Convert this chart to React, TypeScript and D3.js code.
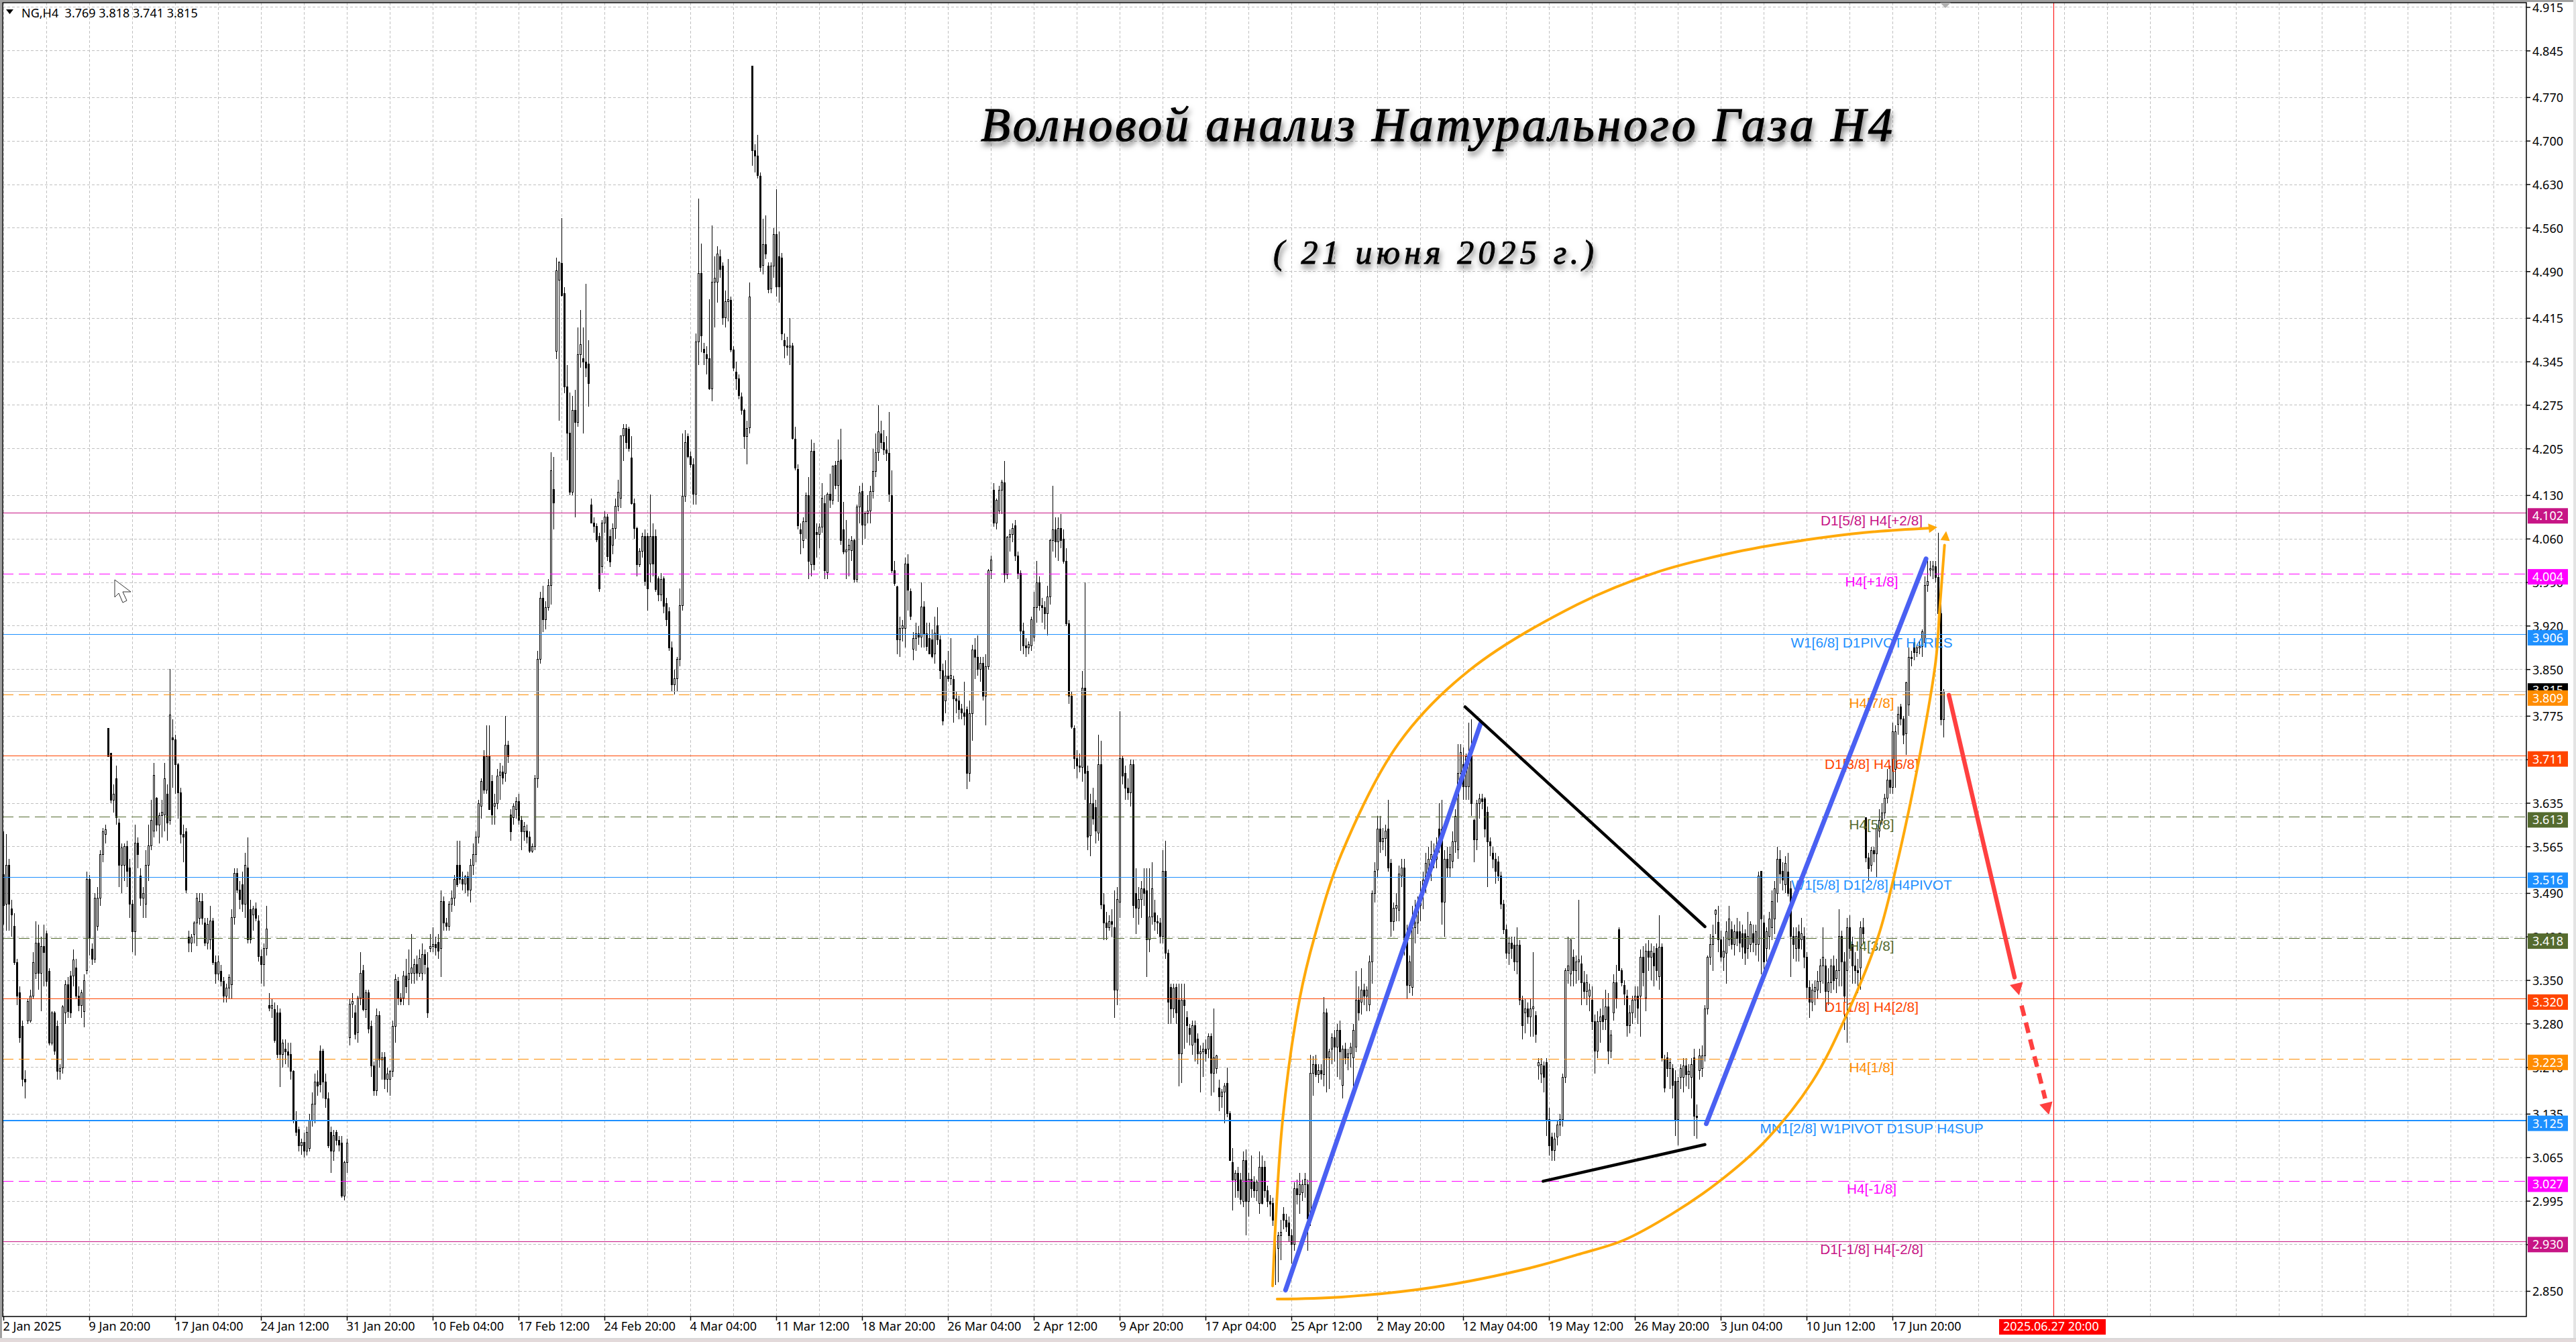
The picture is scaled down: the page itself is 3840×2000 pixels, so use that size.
import React from 'react';
import * as d3 from 'd3';

// H4 candles, [open, high, low, close] in thousandths of a dollar
const barsJan = [
  [3520,3590,3440,3470],[3473,3585,3430,3535],[3535,3545,3430,3473],[3465,3480,3420,3455],[3437,3458,3375,3379],[3379,3385,3310,3325],[3330,3340,3250,3258],[3276,3285,3180,3191],
  [3191,3205,3160,3187],[3285,3320,3280,3316],[3285,3335,3282,3325],[3325,3395,3320,3379],[3361,3445,3352,3410],[3410,3440,3335,3361],[3361,3420,3300,3405],[3405,3440,3340,3395],
  [3425,3430,3340,3348],[3365,3370,3245,3249],[3249,3300,3245,3298],[3298,3300,3230,3236],[3276,3285,3190,3204],[3204,3215,3190,3208],[3209,3310,3200,3307],[3298,3350,3280,3343],
  [3343,3355,3290,3300],[3357,3365,3290,3298],[3357,3400,3340,3383],[3370,3385,3320,3325],[3325,3340,3300,3310],[3310,3335,3290,3330],[3300,3360,3275,3350],[3366,3525,3360,3513],
  [3513,3520,3390,3419],[3400,3410,3375,3384],[3384,3490,3378,3482],[3437,3500,3430,3482],[3482,3560,3470,3553],[3553,3595,3540,3589],[3585,3600,3570,3592],[3755,3756,3710,3710],
  [3715,3716,3635,3640],[3640,3665,3620,3650],[3674,3695,3600,3612],[3603,3610,3500,3535],[3535,3570,3490,3563],[3535,3570,3510,3565],[3565,3575,3500,3525],[3531,3545,3450,3473],
  [3473,3480,3395,3428],[3428,3600,3390,3571],[3571,3580,3530,3553],[3518,3530,3470,3482],[3482,3500,3450,3490],[3473,3560,3450,3535],[3535,3600,3510,3567],[3567,3640,3560,3607],
  [3590,3700,3580,3680],[3643,3645,3590,3600],[3600,3620,3570,3615],[3615,3640,3580,3620],[3616,3700,3590,3674],[3650,3665,3575,3603],[3607,3851,3600,3777],[3740,3770,3660,3737],
  [3737,3745,3650,3697],[3697,3700,3610,3652],[3652,3660,3570,3585],[3585,3600,3540,3580],[3589,3595,3490,3495],[3420,3430,3395,3410],[3410,3425,3395,3420],[3424,3445,3410,3442],
  [3442,3490,3405,3482],[3450,3490,3440,3477],[3477,3490,3440,3450],[3442,3450,3405,3410],[3410,3450,3400,3440],[3415,3470,3400,3446],[3446,3450,3375,3379],[3379,3390,3345,3360],
  [3360,3390,3350,3380],[3365,3375,3340,3348],[3348,3355,3315,3325],[3325,3345,3315,3338],[3338,3360,3320,3355],[3343,3465,3320,3451],[3451,3530,3440,3522],[3522,3530,3490,3495],
  [3495,3510,3465,3480],[3504,3525,3460,3473],[3473,3555,3450,3535],[3531,3580,3410,3415],[3464,3480,3410,3415],[3455,3470,3430,3465],[3465,3475,3445,3450],[3446,3455,3380,3388],
  [3388,3400,3345,3375],[3375,3410,3340,3401],[3401,3470,3390,3433],[3310,3330,3300,3305],[3305,3320,3290,3310],[3303,3315,3250,3254],[3298,3310,3225,3231],[3298,3305,3178,3231],
  [3231,3255,3210,3249],[3240,3255,3215,3235],[3235,3250,3210,3230],[3231,3250,3190,3204],[3204,3205,3120,3124],[3124,3140,3100,3106],[3110,3115,3075,3084],[3084,3095,3070,3090],
  [3090,3105,3065,3075],[3075,3115,3068,3106],[3080,3135,3075,3124],[3124,3170,3115,3151],[3151,3200,3120,3187],[3187,3205,3165,3180],[3236,3245,3170,3182],[3236,3240,3160,3187],
  [3187,3200,3145,3160],[3160,3170,3080,3084],[3106,3115,3040,3075],[3075,3110,3060,3100],[3106,3110,3085,3093],[3093,3100,3075,3085],[3088,3100,3000,3003],[3003,3060,2996,3057],
  [3057,3095,3040,3088],
];

const barsFeb = [
  [3258,3320,3245,3312],[3312,3330,3290,3316],[3298,3310,3255,3263],[3267,3325,3250,3321],[3321,3395,3310,3361],[3366,3375,3300,3303],[3303,3335,3290,3330],[3330,3335,3265,3272],
  [3276,3285,3195,3213],[3213,3220,3165,3173],[3173,3305,3165,3294],[3294,3300,3210,3222],[3222,3235,3190,3225],[3227,3235,3175,3191],[3191,3210,3170,3200],[3191,3205,3165,3204],
  [3204,3285,3195,3276],[3276,3360,3250,3352],[3348,3355,3310,3321],[3321,3330,3310,3316],[3321,3365,3310,3357],[3357,3385,3330,3340],[3352,3400,3310,3361],[3361,3425,3345,3370],
  [3361,3385,3345,3375],[3375,3390,3350,3361],[3361,3400,3355,3385],[3361,3410,3350,3392],[3392,3400,3360,3375],[3370,3395,3290,3298],[3401,3425,3395,3405],[3405,3435,3395,3408],
  [3408,3420,3390,3402],[3411,3425,3385,3397],[3401,3495,3355,3477],[3477,3485,3430,3442],[3442,3450,3430,3437],[3437,3478,3430,3473],[3473,3495,3460,3482],[3482,3520,3470,3513],
  [3535,3575,3500,3504],[3535,3575,3505,3513],[3513,3525,3495,3505],[3505,3520,3490,3517],[3517,3525,3485,3495],[3495,3545,3475,3535],[3535,3570,3520,3553],[3553,3590,3540,3580],
  [3580,3640,3570,3634],[3630,3675,3610,3670],[3710,3720,3650,3656],[3656,3760,3650,3710],[3710,3760,3625,3625],[3670,3680,3600,3616],[3630,3650,3600,3635],[3635,3690,3625,3679],
  [3680,3700,3640,3685],[3685,3695,3665,3675],[3683,3775,3670,3728],[3728,3735,3700,3710],[3616,3625,3575,3589],[3612,3635,3600,3630],[3625,3645,3610,3638],[3638,3650,3600,3607],
  [3607,3615,3560,3589],[3589,3605,3575,3598],[3590,3600,3570,3580],[3580,3590,3555,3558],[3558,3570,3555,3565],[3565,3680,3560,3674],[3674,3880,3660,3867],[3867,3975,3860,3965],
  [3965,3985,3910,3930],[3930,3960,3915,3950],[3950,3995,3945,3985],[3985,4199,3955,4170],[4140,4192,4075,4118],[4362,4512,4349,4491],[4476,4505,4250,4505],[4503,4576,4450,4451],
  [4455,4465,4294,4305],[4305,4340,4186,4230],[4230,4295,4130,4135],[4135,4290,4130,4267],[4267,4300,4095,4247],[4247,4400,4240,4356],[4356,4428,4335,4373],[4350,4400,4230,4345],
  [4345,4470,4320,4335],[4341,4380,4273,4310],[4115,4125,4085,4086],[4086,4095,4070,4080],[4080,4085,4055,4059],[4064,4070,3975,3980],[4015,4090,4005,4086],[4086,4105,4070,4095],
  [4095,4100,4025,4032],[4064,4075,4015,4023],[4050,4085,4035,4077],[4077,4125,4060,4113],[4113,4155,4105,4135],[4126,4226,4110,4226],[4226,4245,4185,4238],[4238,4245,4205,4215],
  [4237,4240,4200,4205],[4190,4225,4115,4117],[4117,4125,4060,4077],[4077,4080,4000,4019],[4019,4045,4015,4040],[4040,4070,4030,4064],[4064,4075,3985,3992],[4064,4070,3945,3980],
  [4020,4131,3990,4064],[4064,4085,4000,4020],[4064,4075,3975,3979],[3996,4000,3960,3970],[3970,4005,3960,3995],[3996,4000,3940,3952],[3956,3965,3920,3930],[3943,3950,3880,3885],
];

const barsMar = [
  [3885,3895,3815,3825],[3825,3850,3810,3835],[3835,3870,3815,3867],[3867,3980,3855,3953],[3953,4230,3945,4129],[4129,4235,4120,4215],[4225,4230,4190,4192],[4192,4200,4175,4180],
  [4180,4190,4115,4132],[4132,4390,4115,4377],[4377,4607,4340,4487],[4487,4535,4360,4387],[4365,4375,4340,4360],[4357,4370,4325,4350],[4350,4445,4300,4301],[4301,4564,4282,4473],
  [4473,4515,4400,4480],[4473,4531,4440,4518],[4514,4525,4480,4494],[4499,4505,4405,4416],[4416,4460,4400,4442],[4442,4510,4410,4445],[4444,4450,4360,4364],[4364,4370,4330,4335],
  [4328,4345,4300,4318],[4318,4325,4285,4291],[4289,4295,4260,4267],[4267,4270,4205,4225],[4225,4250,4180,4238],[4239,4473,4230,4449],[4820,4820,4660,4685],[4685,4695,4650,4676],
  [4676,4710,4640,4645],[4644,4650,4490,4497],[4500,4575,4485,4533],[4533,4580,4510,4518],[4499,4505,4455,4461],[4462,4505,4455,4499],[4499,4560,4480,4550],[4550,4623,4450,4466],
  [4514,4555,4440,4466],[4512,4520,4380,4390],[4379,4390,4350,4371],[4371,4385,4355,4368],[4368,4415,4340,4370],[4370,4375,4220,4222],[4220,4240,4170,4174],[4172,4180,4075,4081],
  [4075,4085,4035,4068],[4057,4095,4045,4088],[4088,4135,4060,4130],[4130,4160,3995,4024],[4019,4220,4000,4201],[4201,4215,4010,4019],[4071,4085,4030,4067],[4067,4085,4045,4079],
  [4079,4150,4070,4125],[4117,4130,3995,4009],[4006,4135,3995,4132],[4132,4165,4110,4122],[4122,4178,4115,4177],[4178,4185,4140,4146],[4146,4220,4120,4185],[4187,4237,4050,4057],
  [4075,4120,4035,4039],[4039,4090,3995,4042],[4042,4060,4000,4050],[4041,4065,4025,4057],[4057,4060,3990,3995],[3995,4115,3990,4112],[4112,4145,4085,4134],[4136,4150,4050,4082],
  [4082,4105,4060,4101],[4101,4130,4085,4105],[4105,4145,4085,4136],[4136,4205,4125,4169],[4169,4230,4160,4199],[4199,4275,4185,4232],[4229,4250,4205,4215],[4215,4235,4195,4203],
  [4203,4225,4185,4198],[4198,4264,4120,4132],[4130,4170,4005,4009],[4009,4025,3985,3988],[3983,3985,3875,3898],[3898,3935,3870,3916],[3916,3930,3895,3920],[3916,4030,3885,4020],
  [4020,4035,3945,3978],[3976,3980,3930,3936],[3883,3910,3865,3900],[3900,3925,3880,3908],[3908,3920,3890,3902],[3902,3990,3885,3951],[3951,3960,3885,3907],[3907,3925,3880,3887],
  [3900,3925,3875,3875],[3898,3915,3868,3871],[3875,3935,3860,3909],[3921,3950,3890,3898],[3898,3905,3835,3848],[3848,3860,3760,3767],[3800,3865,3780,3840],[3840,3880,3830,3835],
  [3835,3900,3825,3841],[3834,3840,3765,3803],[3803,3815,3780,3800],[3800,3808,3770,3786],[3787,3795,3770,3780],[3780,3830,3760,3775],[3786,3790,3658,3683],[3683,3800,3670,3779],
  [3779,3890,3735,3882],[3882,3900,3835,3870],[3870,3905,3840,3850],[3850,3870,3830,3860],[3860,3870,3800,3807],[3807,3875,3760,3855],[3855,4012,3850,4009],[4009,4033,3995,4026],
];

const barsApr = [
  [4139,4150,4080,4086],[4086,4125,4075,4122],[4105,4145,4100,4139],[4139,4155,4100,4151],[4150,4185,3990,4002],[4002,4065,3995,4063],[4063,4075,4040,4067],[4067,4085,4055,4077],
  [4081,4090,4025,4033],[4033,4040,3995,4005],[4005,4010,3880,3912],[3912,3925,3875,3888],[3888,3900,3870,3885],[3885,3895,3875,3890],[3888,3935,3880,3930],[3902,3975,3895,3950],
  [3950,4025,3925,3990],[3990,4000,3945,3953],[3953,3965,3925,3950],[3950,3960,3915,3940],[3940,3985,3905,3967],[3967,4060,3955,4057],[4057,4146,4040,4075],[4075,4095,4030,4055],
  [4055,4095,4025,4077],[4077,4100,4045,4058],[4060,4075,4020,4024],[4024,4045,3920,3924],[3924,3930,3795,3807],[3807,3815,3755,3758],[3755,3760,3690,3707],[3707,3720,3675,3695],
  [3695,3715,3685,3693],[3693,3848,3670,3820],[3820,3990,3640,3683],[3686,3695,3560,3581],[3583,3650,3550,3635],[3635,3660,3600,3610],[3628,3640,3570,3590],[3587,3745,3575,3697],
  [3697,3735,3465,3471],[3471,3490,3415,3442],[3442,3460,3415,3435],[3435,3455,3430,3445],[3445,3465,3420,3440],[3435,3495,3290,3335],[3335,3500,3310,3480],[3476,3783,3450,3707],
  [3707,3712,3665,3679],[3683,3695,3640,3659],[3659,3675,3640,3652],[3652,3705,3630,3697],[3697,3705,3450,3470],[3490,3530,3425,3466],[3466,3500,3440,3480],[3480,3510,3450,3497],
  [3497,3530,3470,3490],[3494,3530,3355,3415],[3415,3530,3395,3452],[3452,3540,3440,3497],[3459,3480,3430,3445],[3445,3455,3425,3442],[3442,3450,3410,3421],[3421,3560,3410,3525],
  [3525,3575,3385,3394],[3394,3400,3280,3315],[3339,3345,3280,3304],[3304,3345,3290,3338],[3339,3345,3280,3298],[3318,3345,3180,3232],[3232,3345,3185,3318],[3318,3345,3240,3310],
  [3290,3300,3250,3277],[3273,3280,3245,3263],[3246,3285,3230,3277],[3277,3285,3220,3250],[3256,3265,3215,3232],[3232,3245,3170,3235],[3235,3250,3195,3240],[3240,3255,3220,3232],
  [3239,3265,3225,3260],[3260,3265,3165,3201],[3201,3305,3170,3225],[3208,3230,3200,3229],[3177,3190,3140,3163],[3163,3175,3145,3170],[3170,3185,3120,3180],[3184,3210,3130,3136],
  [3136,3140,3060,3060],[3057,3080,2980,3029],[3029,3045,3000,3040],[3040,3050,3000,3012],[3029,3040,2990,2998],[2995,3075,2985,3060],[3060,3078,2940,2995],[2995,3040,2970,3030],
  [3030,3068,3000,3015],[3026,3035,3000,3012],[3012,3030,2995,3026],[2991,3075,2975,3050],[3050,3068,2990,2991],[3050,3060,3000,3012],[3012,3020,2985,2995],[2995,3005,2970,2990],
  [2991,3000,2955,2964],[2964,2985,2860,2960],[2919,2945,2864,2940],[2940,2965,2900,2945],[2974,2985,2950,2964],[2964,2975,2945,2953],[2960,2970,2930,2940],[2940,2950,2895,2926],
  [2926,3025,2915,3015],[3015,3030,2990,3005],[3005,3040,2975,3022],[3009,3030,2995,3022],[3022,3040,3000,3030],[3022,3030,2915,2967],[2967,3230,2955,3201],[3201,3228,3165,3215],
];

const barsMay = [
  [3215,3230,3195,3198],[3198,3215,3185,3205],[3205,3215,3190,3200],[3198,3323,3180,3298],[3298,3305,3170,3225],[3225,3240,3175,3235],[3240,3265,3215,3258],[3258,3270,3220,3243],
  [3243,3280,3195,3270],[3270,3285,3190,3235],[3181,3245,3160,3239],[3239,3250,3215,3225],[3225,3240,3205,3232],[3232,3250,3210,3243],[3225,3280,3180,3270],[3243,3365,3235,3318],
  [3318,3340,3285,3298],[3315,3370,3295,3335],[3335,3345,3310,3325],[3325,3340,3300,3335],[3311,3390,3300,3380],[3380,3495,3345,3490],[3490,3540,3475,3525],[3528,3614,3515,3593],
  [3593,3615,3555,3573],[3573,3595,3560,3578],[3578,3600,3550,3590],[3593,3640,3525,3531],[3538,3545,3420,3445],[3445,3475,3430,3466],[3466,3490,3445,3470],[3463,3535,3445,3521],
  [3518,3545,3500,3531],[3531,3545,3390,3401],[3421,3440,3320,3342],[3342,3390,3330,3380],[3339,3470,3325,3435],[3435,3480,3410,3442],[3442,3485,3425,3470],[3470,3510,3445,3476],[3490,3525,3465,3511],
  [3511,3555,3490,3538],[3525,3565,3510,3545],[3545,3575,3510,3552],[3552,3570,3530,3545],[3545,3580,3530,3566],[3593,3635,3555,3566],[3593,3640,3440,3476],[3476,3560,3420,3545],
  [3545,3565,3515,3531],[3531,3565,3515,3552],[3542,3590,3530,3573],[3573,3625,3555,3614],[3560,3730,3545,3683],[3683,3730,3670,3717],[3697,3725,3640,3662],[3662,3715,3640,3710],
  [3662,3765,3640,3710],[3710,3770,3615,3635],[3607,3610,3540,3576],[3576,3640,3560,3635],[3635,3650,3610,3642],[3642,3650,3625,3638],[3642,3645,3580,3593],[3621,3630,3500,3573],
  [3573,3580,3550,3566],[3555,3565,3530,3545],[3545,3555,3505,3525],[3541,3550,3510,3518],[3518,3525,3465,3473],[3473,3480,3425,3432],[3432,3440,3385,3394],[3394,3420,3375,3410],
  [3410,3420,3385,3401],[3407,3420,3365,3380],[3380,3435,3360,3407],[3407,3415,3310,3318],[3318,3325,3255,3277],[3298,3320,3265,3304],[3304,3315,3280,3291],[3291,3320,3260,3304],
  [3304,3395,3260,3308],[3294,3300,3250,3263],[3212,3225,3190,3218],[3200,3225,3185,3215],[3212,3220,3170,3194],[3218,3225,3100,3126],[3126,3145,3068,3084],[3098,3105,3060,3077],
  [3077,3105,3060,3095],[3098,3125,3085,3118],[3118,3135,3100,3126],[3126,3200,3115,3194],[3194,3370,3185,3366],[3366,3420,3345,3373],[3360,3415,3340,3415],[3387,3400,3340,3366],
  [3366,3390,3345,3380],[3380,3480,3350,3383],[3377,3390,3310,3346],[3346,3365,3320,3332],[3332,3360,3310,3346],[3325,3345,3300,3335],[3318,3340,3270,3284],[3284,3295,3200,3236],
  [3236,3300,3225,3284],[3284,3305,3250,3291],[3294,3320,3270,3284],[3287,3335,3270,3308],[3308,3330,3215,3236],[3236,3270,3225,3262],[3298,3360,3285,3346],[3346,3375,3305,3320],
  [3432,3435,3365,3366],[3366,3370,3340,3346],[3342,3350,3310,3328],[3325,3335,3260,3277],[3277,3310,3265,3298],[3298,3325,3280,3318],[3318,3340,3290,3325],[3325,3340,3280,3305],
  [3325,3400,3260,3387],[3387,3405,3340,3362],[3322,3410,3300,3397],[3397,3415,3365,3387],[3387,3410,3350,3397],[3394,3405,3340,3373],[3401,3410,3350,3366],[3356,3455,3335,3404],[3404,3410,3220,3225],
];

const barsJun = [
  [3222,3230,3170,3177],[3225,3235,3195,3208],[3208,3225,3175,3218],[3208,3215,3160,3181],[3188,3205,3100,3126],[3126,3195,3085,3188],[3194,3215,3175,3208],[3194,3225,3170,3212],
  [3212,3225,3180,3198],[3198,3215,3175,3204],[3194,3225,3160,3215],[3225,3240,3100,3132],[3132,3150,3095,3129],[3205,3240,3190,3229],[3208,3245,3195,3229],[3229,3310,3220,3304],
  [3304,3390,3295,3387],[3387,3425,3375,3408],[3408,3440,3365,3421],[3456,3465,3425,3463],[3444,3470,3395,3415],[3415,3430,3380,3387],[3387,3420,3365,3397],[3394,3445,3345,3428],
  [3415,3470,3405,3449],[3432,3445,3400,3408],[3408,3440,3390,3428],[3428,3450,3405,3418],[3428,3445,3395,3410],[3425,3440,3385,3404],[3425,3432,3375,3394],[3401,3460,3385,3421],[3408,3445,3395,3440],
  [3425,3440,3395,3411],[3408,3440,3390,3428],[3408,3525,3380,3518],[3525,3525,3360,3449],[3442,3455,3365,3380],[3401,3435,3380,3428],[3421,3460,3400,3449],[3435,3495,3415,3477],
  [3449,3510,3425,3497],[3490,3565,3475,3545],[3545,3560,3505,3521],[3525,3540,3495,3511],[3504,3550,3490,3538],[3524,3555,3485,3490],[3497,3510,3355,3421],[3421,3435,3385,3408],
  [3401,3435,3380,3421],[3428,3440,3380,3401],[3415,3450,3400,3425],[3421,3435,3370,3387],[3387,3395,3320,3339],[3339,3350,3290,3315],[3315,3345,3300,3335],[3332,3350,3310,3339],
  [3335,3365,3320,3349],[3349,3385,3330,3373],[3373,3435,3345,3387],[3373,3385,3300,3332],[3332,3370,3310,3346],[3346,3385,3330,3373],[3373,3390,3335,3350],[3353,3385,3330,3366],[3366,3465,3340,3421],
  [3421,3430,3340,3380],[3380,3395,3270,3325],[3366,3450,3250,3435],[3435,3455,3385,3401],[3408,3420,3345,3373],[3373,3395,3345,3366],[3366,3385,3330,3363],[3370,3445,3335,3435],
  [3435,3450,3410,3425],[3612,3612,3540,3547],[3547,3555,3510,3530],[3535,3565,3525,3559],[3559,3565,3540,3554],[3554,3600,3515,3595],[3590,3625,3580,3607],[3607,3635,3600,3619],
  [3619,3650,3610,3643],[3643,3690,3635,3672],[3672,3695,3650,3660],[3660,3765,3650,3750],[3690,3760,3660,3750],[3762,3790,3745,3778],[3790,3795,3760,3771],[3771,3775,3730,3745],
  [3747,3830,3713,3829],[3793,3885,3775,3870],[3870,3880,3855,3868],[3894,3900,3865,3877],[3877,3890,3870,3885],[3885,3895,3875,3887],[3887,3915,3870,3911],[3894,4000,3885,3985],
  [3985,4030,3975,3992],[4010,4025,4000,4012],[4010,4025,3995,4016],[4015,4025,3990,3998],[3998,4070,3930,3940],[3940,3960,3760,3769],[3769,3818,3741,3815],
];

const priceTicks = [4.915,4.845,4.77,4.7,4.63,4.56,4.49,4.415,4.345,4.275,4.205,4.13,4.06,3.99,3.92,3.85,3.775,3.705,3.635,3.565,3.49,3.42,3.35,3.28,3.21,3.135,3.065,2.995,2.925,2.85];
const timeLabels = ['2 Jan 2025','9 Jan 20:00','17 Jan 04:00','24 Jan 12:00','31 Jan 20:00','10 Feb 04:00','17 Feb 12:00','24 Feb 20:00','4 Mar 04:00','11 Mar 12:00','18 Mar 20:00','26 Mar 04:00','2 Apr 12:00','9 Apr 20:00','17 Apr 04:00','25 Apr 12:00','2 May 20:00','12 May 04:00','19 May 12:00','26 May 20:00','3 Jun 04:00','10 Jun 12:00','17 Jun 20:00'];

// Murrey levels: price, colour, dashed, label
const levelPrices = [4.102,4.004,3.906,3.809,3.711,3.613,3.516,3.418,3.32,3.223,3.125,3.027,2.93];
const levelColors = ['#c71585','#ff00ff','#1e90ff','#ff8c00','#ff4500','#556b2f','#1e90ff','#556b2f','#ff4500','#ff8c00','#1e90ff','#ff00ff','#c71585'];
const levelDashed = [false,true,false,true,false,true,false,true,false,true,false,true,false];
const levelNames = ['D1[5/8] H4[+2/8]','H4[+1/8]','W1[6/8] D1PIVOT H4RES','H4[7/8]','D1[3/8] H4[6/8]','H4[5/8]','W1[5/8] D1[2/8] H4PIVOT','H4[3/8]','D1[1/8] H4[2/8]','H4[1/8]','MN1[2/8] W1PIVOT D1SUP H4SUP','H4[-1/8]','D1[-1/8] H4[-2/8]'];

// drawn objects, [bar index, price]
const blueWaveA = [[477.7,2.852],[550.4,3.763]];
const blueWaveB = [[634.5,3.1195],[716.4,4.028]];
const blackUpper = [[544.6,3.79],[634,3.4365]];
const blackLower = [[573.7,3.027],[634,3.086]];
const redSolid = [[724.9,3.809],[749.4,3.355]];
const redDashed = [[752,3.3095],[760.8,3.16]];
const redTips = [[751.1,3.326],[762.2,3.134]];
const arcUpper = [[472.9,2.8586],[476.6,3.1246],[483,3.321],[488.6,3.4215],[498.6,3.554],[520,3.732],[545.9,3.8477],[586.4,3.9545],[616,4.0065],[648.1,4.0413],[670.9,4.058],[693.3,4.0702],[718,4.0775]];
const arcLower = [[474.6,2.8375],[498.6,2.8408],[533.6,2.857],[568.8,2.8875],[586.4,2.9088],[603.9,2.9325],[621.4,2.9736],[638.9,3.0253],[656.4,3.0913],[674,3.1872],[687.1,3.2975],[698.6,3.421],[705.6,3.538],[713.4,3.6966],[720,3.863],[721.6,3.9545],[723.3,4.05]];
const arcTips = [[720.6,4.0789],[723.9,4.0726]];

const candles = [...barsJan, ...barsFeb, ...barsMar, ...barsApr, ...barsMay, ...barsJun];
const LAST_OPEN_LINE = 3.815;
const MARKER_BAR = 764;

const frame = { left: 4, right: 3766, top: 4, bottom: 1962 };
const x = d3.scaleLinear().domain([0, 32]).range([5.5, 133.5]);
const y = d3.scaleLinear().domain([4.102, 2.93]).range([764.3, 1850.3]);
const line = d3.line<number[]>().x(d => x(d[0])).y(d => y(d[1]));
const curve = d3.line<number[]>().x(d => x(d[0])).y(d => y(d[1])).curve(d3.curveCatmullRom.alpha(0.5));

const arrowHead = (from: number[], tip: number[], len: number, half: number) => {
  const tx = x(tip[0]), ty = y(tip[1]);
  const a = Math.atan2(ty - y(from[1]), tx - x(from[0]));
  const bx = tx - len * Math.cos(a), by = ty - len * Math.sin(a);
  const nx = -Math.sin(a) * half, ny = Math.cos(a) * half;
  return `M${tx},${ty}L${bx + nx},${by + ny}L${bx - nx},${by - ny}Z`;
};

const sans = '"Noto Sans", sans-serif';
const labelFont = '"Liberation Sans", Arial, sans-serif';
const gridBars = d3.range(0, 59).map(k => k * 16);

export default function App() {
  return (
    <svg width={3840} height={2000} style={{ position: 'fixed', left: 0, top: 0, display: 'block', background: '#fff' }}>
      <defs>
        <filter id="soft" x="-5%" y="-30%" width="110%" height="170%">
          <feDropShadow dx="2" dy="6" stdDeviation="4" floodColor="#000" floodOpacity="0.55" />
        </filter>
      </defs>

      {/* window chrome */}
      <rect x={0} y={0} width={3840} height={3} fill="#a0a0a0" />
      <rect x={0} y={0} width={3} height={2000} fill="#a0a0a0" />
      <rect x={3836} y={0} width={4} height={2000} fill="#e4e4e4" />
      <rect x={0} y={1994} width={3840} height={2} fill="#d8d8d8" />
      <rect x={0} y={1996} width={3840} height={4} fill="#e3d9da" />

      {/* grid */}
      <g stroke="#c0c0c0" strokeDasharray="4 3" shapeRendering="crispEdges">
        {gridBars.map(b => <line key={b} x1={x(b)} x2={x(b)} y1={frame.top} y2={frame.bottom} />)}
        {priceTicks.map(p => <line key={p} x1={frame.left} x2={frame.right} y1={y(p)} y2={y(p)} />)}
      </g>

      {/* candles */}
      <g shapeRendering="crispEdges">
        {candles.map((c, i) => {
          const [o, h, l, cl] = c.map(v => v / 1000);
          const top = Math.min(y(o), y(cl));
          const bh = Math.max(Math.abs(y(o) - y(cl)), 1);
          return (
            <g key={i}>
              <line x1={x(i)} x2={x(i)} y1={y(h)} y2={y(l)} stroke="#000" />
              <rect x={x(i) - 1} y={top} width={2} height={bh} fill={cl >= o ? '#fff' : '#000'} stroke="#000" />
            </g>
          );
        })}
      </g>

      {/* level lines */}
      <line x1={frame.left} x2={frame.right} y1={y(LAST_OPEN_LINE)} y2={y(LAST_OPEN_LINE)} stroke="#c0c0c0" shapeRendering="crispEdges" />
      {levelPrices.map((p, i) => (
        <line key={p} x1={frame.left} x2={frame.right} y1={y(p)} y2={y(p)} stroke={levelColors[i]}
          strokeWidth={p === 3.125 ? 2 : 1} strokeDasharray={levelDashed[i] ? '16 8' : undefined} shapeRendering="crispEdges" />
      ))}
      <line x1={x(MARKER_BAR)} x2={x(MARKER_BAR)} y1={frame.top} y2={frame.bottom} stroke="#ff0000" shapeRendering="crispEdges" />

      {/* level names */}
      {levelPrices.map((p, i) => (
        <text key={p} x={2790} y={y(p) + 19} textAnchor="middle" fontFamily={labelFont} fontSize={20.8} fill={levelColors[i]}>{levelNames[i]}</text>
      ))}

      {/* hand drawn wave marks */}
      <g fill="none" strokeLinecap="round">
        <path d={curve(arcUpper) || ''} stroke="#ffa90a" strokeWidth={4} />
        <path d={curve(arcLower) || ''} stroke="#ffa90a" strokeWidth={4} />
        <path d={line(blueWaveA) || ''} stroke="#4a60f2" strokeWidth={7} />
        <path d={line(blueWaveB) || ''} stroke="#4a60f2" strokeWidth={7} />
        <path d={line(blackUpper) || ''} stroke="#000" strokeWidth={4.5} />
        <path d={line(blackLower) || ''} stroke="#000" strokeWidth={4.5} />
        <path d={line(redSolid) || ''} stroke="#ff4040" strokeWidth={6.5} />
        <path d={line(redDashed) || ''} stroke="#ff4040" strokeWidth={6.5} strokeDasharray="16 10" strokeLinecap="butt" />
      </g>
      <path d={arrowHead(arcUpper[arcUpper.length - 1], arcTips[0], 13, 7)} fill="#ffa90a" />
      <path d={arrowHead(arcLower[arcLower.length - 1], arcTips[1], 14, 7)} fill="#ffa90a" />
      <path d={arrowHead(redSolid[0], redTips[0], 18, 10)} fill="#ff4040" />
      <path d={arrowHead(redDashed[0], redTips[1], 18, 10)} fill="#ff4040" />

      {/* frame */}
      <g stroke="#000" strokeWidth={1.5} fill="none">
        <path d={`M${frame.left},${frame.bottom}V${frame.top}H${frame.right}V${frame.bottom}Z`} />
      </g>
      <path d="M2892,4L2908,4L2900,12Z" fill="#b0b0b0" />

      {/* header */}
      <path d="M9,14L20,14L14.5,21Z" fill="#000" />
      <text x={32} y={26} fontFamily={sans} fontSize={18} fill="#000" xmlSpace="preserve">{'NG,H4  3.769 3.818 3.741 3.815'}</text>

      {/* cursor */}
      <path d="M171,864L171,890L177,884L183,898L189,895L183,882L195,882Z" fill="#fff" stroke="#333" strokeWidth={1} />

      {/* price axis */}
      {priceTicks.map(p => (
        <g key={p}>
          <line x1={frame.right} x2={frame.right + 6} y1={y(p)} y2={y(p)} stroke="#000" strokeWidth={1.5} />
          <text x={3775} y={y(p) + 7} fontFamily={sans} fontSize={18} fill="#000">{p.toFixed(3)}</text>
        </g>
      ))}
      <rect x={3768} y={y(LAST_OPEN_LINE) - 12} width={60} height={23} fill="#000" />
      <text x={3775} y={y(LAST_OPEN_LINE) + 5} fontFamily={sans} fontSize={18} fill="#fff">{LAST_OPEN_LINE.toFixed(3)}</text>
      {levelPrices.map((p, i) => (
        <g key={p}>
          <rect x={3768} y={y(p) - 7} width={60} height={23} fill={levelColors[i]} />
          <text x={3775} y={y(p) + 11} fontFamily={sans} fontSize={18} fill="#fff">{p.toFixed(3)}</text>
        </g>
      ))}

      {/* time axis */}
      {timeLabels.map((t, i) => (
        <g key={t}>
          <line x1={x(i * 32)} x2={x(i * 32)} y1={frame.bottom} y2={frame.bottom + 6} stroke="#000" strokeWidth={1.5} />
          <text x={x(i * 32) - 1} y={1983} fontFamily={sans} fontSize={18} fill="#000">{t}</text>
        </g>
      ))}
      <rect x={2980} y={1966} width={159} height={23} fill="#ff0000" />
      <text x={2986} y={1983} fontFamily={sans} fontSize={18} fill="#fff">2025.06.27 20:00</text>

      {/* title */}
      <g filter="url(#soft)" fontFamily='"Liberation Serif", serif' fontStyle="italic" fill="#000" stroke="#000">
        <text x={1462} y={210} fontSize={72} strokeWidth={1.2} textLength={1359} lengthAdjust="spacing">Волновой анализ Натурального Газа H4</text>
        <text x={1898} y={393} fontSize={50} strokeWidth={1} textLength={478} lengthAdjust="spacing">( 21 июня 2025 г.)</text>
      </g>
    </svg>
  );
}
